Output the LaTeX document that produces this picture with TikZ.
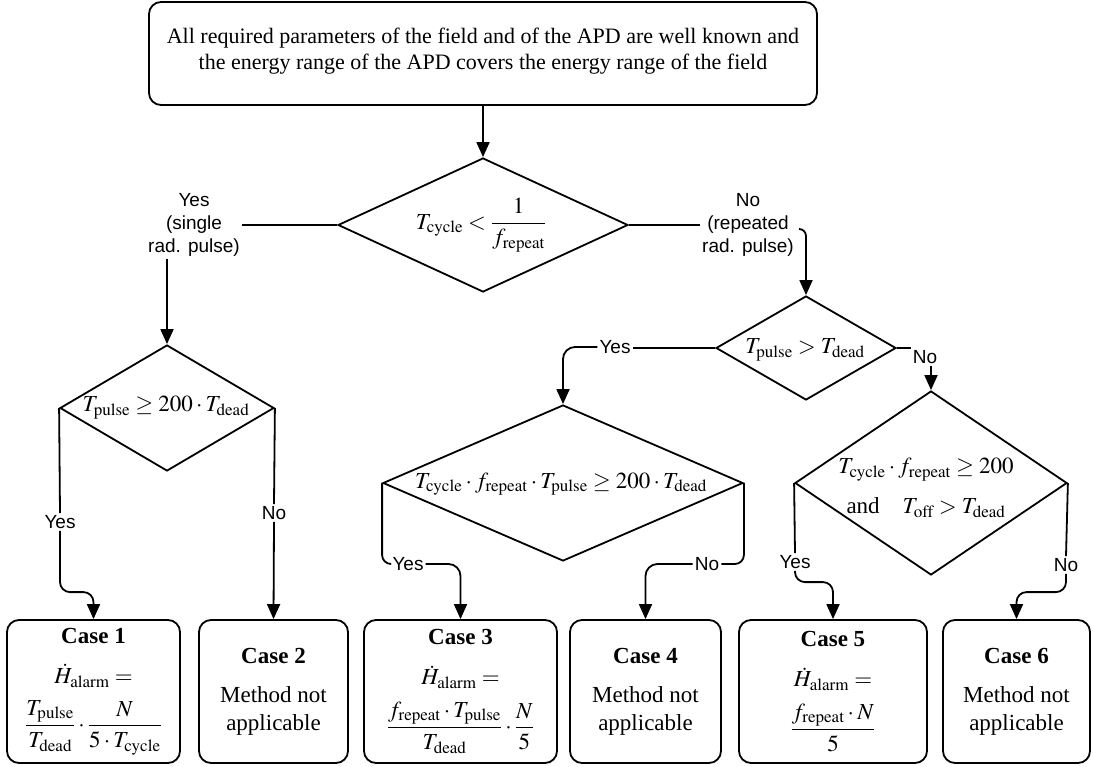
\documentclass[tikz,border=0pt]{standalone}
\usepackage{amsmath}
\usepackage{mathptmx}
\usepackage[no-math]{fontspec}
\setmainfont{Liberation Serif}
\setsansfont{Liberation Sans}
\usetikzlibrary{shapes.geometric,arrows.meta,calc}
\tikzset{
  ln/.style={line width=1.8pt},
  arr/.style={line width=1.8pt,-{Triangle[width=13pt,length=15pt]}},
  casebox/.style={draw,line width=1.8pt,rounded corners=12pt,minimum height=143pt,align=center,inner sep=0pt,font=\fontsize{23}{28}\selectfont},
  dia/.style={draw,diamond,line width=1.8pt,inner sep=0pt},
  dtext/.style={align=center,inner sep=0pt,font=\fontsize{23}{28}\selectfont},
  lbl/.style={font=\sffamily\fontsize{19}{23}\selectfont,align=center,inner sep=2pt,fill=white},
}
\begin{document}
\begin{tikzpicture}[x=1pt,y=-1pt]
\useasboundingbox (0,0) rectangle (1093,767);
% top box
\node[draw,line width=1.8pt,rounded corners=12pt,minimum width=668pt,minimum height=103pt,align=center,font=\fontsize{22}{26}\selectfont]
  (top) at (483,53.5) {All required parameters of the field and of the APD are well known and\\the energy range of the APD covers the energy range of the field\\[-17pt]};
% diamonds
\node[dia,minimum width=290pt,minimum height=134pt] (d1) at (483,225) {};
\node[dtext] at (481,225) {$T_{\mathrm{cycle}} < \dfrac{1}{f_{\mathrm{repeat}}}$};
\node[dia,minimum width=214pt,minimum height=126pt] (d2) at (167,408) {};
\node[dtext] at (166,408) {$T_{\mathrm{pulse}} \ge 200\cdot T_{\mathrm{dead}}$};
\node[dia,minimum width=180pt,minimum height=104pt] (d3) at (806,348) {};
\node[dtext] at (805,350) {$T_{\mathrm{pulse}} > T_{\mathrm{dead}}$};
\node[dia,minimum width=360pt,minimum height=156pt] (d4) at (563,483) {};
\node[dtext] at (561,484) {$T_{\mathrm{cycle}}\cdot f_{\mathrm{repeat}}\cdot T_{\mathrm{pulse}} \ge 200\cdot T_{\mathrm{dead}}$};
\node[dia,minimum width=272pt,minimum height=184pt] (d5) at (931,483) {};
\node[dtext,font=\fontsize{23}{40}\selectfont] at (926,488) {$T_{\mathrm{cycle}}\cdot f_{\mathrm{repeat}} \ge 200$\\and\quad $T_{\mathrm{off}} > T_{\mathrm{dead}}$};
% case boxes
\node[casebox,minimum width=173pt] (c1) at (93.5,691.5) {\textbf{Case 1}\\[12pt]$\dot{H}_{\mathrm{alarm}} =$\\[12pt]$\dfrac{T_{\mathrm{pulse}}}{T_{\mathrm{dead}}}\cdot\dfrac{N}{5\cdot T_{\mathrm{cycle}}}$};
\node[casebox,minimum width=149pt] (c2) at (273.5,691.5) {\textbf{Case 2}\\[11pt]Method not\\applicable};
\node[casebox,minimum width=193pt] (c3) at (460.5,691.5) {\textbf{Case 3}\\[12pt]$\dot{H}_{\mathrm{alarm}} =$\\[12pt]$\dfrac{f_{\mathrm{repeat}}\cdot T_{\mathrm{pulse}}}{T_{\mathrm{dead}}}\cdot\dfrac{N}{5}$};
\node[casebox,minimum width=151pt] (c4) at (645.5,691.5) {\textbf{Case 4}\\[11pt]Method not\\applicable};
\node[casebox,minimum width=188pt] (c5) at (833,691.5) {\textbf{Case 5}\\[12pt]$\dot{H}_{\mathrm{alarm}} =$\\[12pt]$\dfrac{f_{\mathrm{repeat}}\cdot N}{5}$};
\node[casebox,minimum width=147pt] (c6) at (1016.5,691.5) {\textbf{Case 6}\\[11pt]Method not\\applicable};
% labels
\node[lbl] (y1) at (194,225) {Yes\\(single\\rad. pulse)};
\node[lbl] (n1) at (748,225) {No\\(repeated\\rad. pulse)};
\node[lbl] (y3) at (615,347) {Yes};
\node[lbl] (n3) at (925,357) {No};
\node[lbl] (y2) at (60,522) {Yes};
\node[lbl] (n2) at (274,513) {No};
\node[lbl] (y4) at (408,564) {Yes};
\node[lbl] (n4) at (707,564) {No};
\node[lbl] (y5) at (795,562) {Yes};
\node[lbl] (n5) at (1066,565) {No};
\coordinate (n1a) at (799,229);
% connectors
\draw[arr] (top.south -| d1.north) -- (d1.north);
\draw[ln] (d1.west) -- (y1.east |- d1.west);
\draw[arr] (d2.north |- y1.south) -- (d2.north);
\draw[ln] (d1.east) -- (n1.west |- d1.east);
\draw[arr,rounded corners=7pt] (n1a) -| (d3.north);
\draw[ln] (d3.west) -- (y3.east |- d3.west);
\draw[arr,rounded corners=12pt] (y3.west) -| (d4.north);
\draw[ln] (d3.east) -- ++(14,0);
\draw[arr] (d5.north |- n3.south) -- (d5.north);
\draw[ln] (d2.west) -- (y2.north);
\draw[arr,rounded corners=10pt] (y2.south) |- ($(c1.north)+(0,-27)$) -- (c1.north);
\draw[ln] (d2.east) -- (n2.north);
\draw[arr] (n2.south) -- (c2.north);
\draw[ln,rounded corners=9pt] (d4.west) |- (y4.west);
\draw[arr,rounded corners=12pt] (y4.east) -| (c3.north);
\draw[ln,rounded corners=9pt] (d4.east) |- (n4.east);
\draw[arr,rounded corners=12pt] (n4.west) -| (c4.north);
\draw[ln] (d5.west) -- (y5.north);
\draw[arr,rounded corners=10pt] (y5.south) |- ($(c5.north)+(0,-37)$) -- (c5.north);
\draw[ln] (d5.east) -- (n5.north);
\draw[arr,rounded corners=10pt] (n5.south) |- ($(c6.north)+(0,-27)$) -- (c6.north);
\end{tikzpicture}
\end{document}
